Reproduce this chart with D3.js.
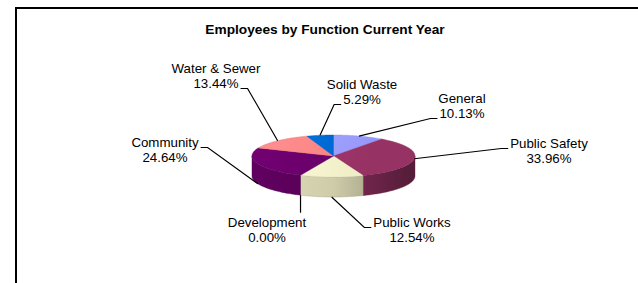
<!DOCTYPE html>
<html>
<head>
<meta charset="utf-8">
<script src="https://cdn.jsdelivr.net/npm/d3@7/dist/d3.min.js"></script>
<style>
  body { margin: 0; background: #fff; }
  text { font-family: "Liberation Sans", Arial, sans-serif; }
</style>
</head>
<body>
<svg id="chart" width="638" height="283"></svg>
<script>
// data, clockwise from 12 o'clock
var names = ["General", "Public Safety", "Public Works", "Development", "Community", "Water & Sewer", "Solid Waste"];
var values = [10.13, 33.96, 12.54, 0.00, 24.64, 13.44, 5.29];
var colors = ["#9999ff", "#993366", "#f2f0c6", "#ccffff", "#660066", "#ff8080", "#0066cc"];

// label layout: text centre, first baseline, which line the leader meets, side
var labelPos = [
  { x: 462, y: 103, line: 1, side: "r" },
  { x: 549, y: 148, line: 0, side: "r" },
  { x: 412, y: 227, line: 0, side: "r" },
  { x: 267, y: 227, line: 0, side: "b" },
  { x: 165, y: 147, line: 0, side: "l" },
  { x: 216, y: 73,  line: 1, side: "l" },
  { x: 362, y: 89,  line: 1, side: "r" }
];

var width = 638, height = 283;
var cx = 333.5, cy = 156, rx = 81.5, ry = 21, depth = 20;
var fontSize = 13.3;

var svg = d3.select("#chart");
var defs = svg.append("defs");

// frame (only left + top visible)
svg.append("path")
  .attr("d", "M16," + height + " L16,8 L" + width + ",8")
  .attr("fill", "none")
  .attr("stroke", "#000")
  .attr("stroke-width", 2);

svg.append("text")
  .attr("x", 325)
  .attr("y", 34)
  .attr("text-anchor", "middle")
  .style("font-size", "13.7px")
  .style("font-weight", "bold")
  .text("Employees by Function Current Year");

var pie = d3.pie().sort(null).startAngle(0).endAngle(2 * Math.PI);
var arcs = pie(values);

function px(a) { return cx + rx * Math.sin(a); }
function py(a, dy) { return cy - ry * Math.cos(a) + (dy || 0); }

function rim(a0, a1, dy) {
  var n = Math.max(2, Math.ceil((a1 - a0) / 0.02));
  return d3.range(n + 1).map(function (i) {
    var a = a0 + (a1 - a0) * i / n;
    return [px(a), py(a, dy)];
  });
}

var line = d3.line();

// gradients
arcs.forEach(function (d, i) {
  var c = d3.color(colors[i]);
  var gt = defs.append("linearGradient")
    .attr("id", "top" + i)
    .attr("gradientUnits", "userSpaceOnUse")
    .attr("x1", cx - rx).attr("y1", cy - ry)
    .attr("x2", cx + rx * 0.4).attr("y2", cy + ry);
  gt.append("stop").attr("offset", 0).attr("stop-color", c.brighter(0.35));
  gt.append("stop").attr("offset", 1).attr("stop-color", c.darker(0.05));

  var gs = defs.append("linearGradient")
    .attr("id", "side" + i)
    .attr("gradientUnits", "userSpaceOnUse")
    .attr("x1", cx - rx).attr("y1", 0)
    .attr("x2", cx + rx).attr("y2", 0);
  gs.append("stop").attr("offset", 0).attr("stop-color", c.darker(0.15));
  gs.append("stop").attr("offset", 0.5).attr("stop-color", c.darker(0.45));
  gs.append("stop").attr("offset", 1).attr("stop-color", c.darker(1.7));
});

// outer walls, front half only (angles between 90 and 270 deg)
var sides = svg.append("g");
arcs.forEach(function (d, i) {
  var a0 = Math.max(d.startAngle, Math.PI / 2);
  var a1 = Math.min(d.endAngle, Math.PI * 1.5);
  if (a1 <= a0) return;
  var pts = rim(a0, a1, 0).concat(rim(a0, a1, depth).reverse());
  sides.append("path")
    .attr("d", line(pts) + "Z")
    .attr("fill", "url(#side" + i + ")")
    .attr("stroke", d3.color(colors[i]).darker(1.2))
    .attr("stroke-width", 0.4);
});

// top faces
var tops = svg.append("g");
arcs.forEach(function (d, i) {
  if (d.endAngle - d.startAngle <= 0) return;
  var pts = [[cx, cy]].concat(rim(d.startAngle, d.endAngle, 0));
  tops.append("path")
    .attr("d", line(pts) + "Z")
    .attr("fill", "url(#top" + i + ")")
    .attr("stroke", d3.color(colors[i]).darker(0.3))
    .attr("stroke-width", 0.4);
});

// labels and leader lines
var labels = svg.append("g");
arcs.forEach(function (d, i) {
  var lp = labelPos[i];
  var t = labels.append("text")
    .attr("text-anchor", "middle")
    .style("font-size", fontSize + "px")
    .attr("fill", "#000");
  var l1 = t.append("tspan").attr("x", lp.x).attr("y", lp.y).text(names[i]);
  var l2 = t.append("tspan").attr("x", lp.x).attr("y", lp.y + 15).text(values[i].toFixed(2) + "%");

  var mid = (d.startAngle + d.endAngle) / 2;
  var ax = px(mid);
  var ay = py(mid, Math.cos(mid) < -0.3 ? depth : 0);

  var pts;
  if (lp.side === "b") {
    pts = [[ax, ay], [ax, lp.y - fontSize - 1]];
  } else {
    var span = lp.line === 0 ? l1 : l2;
    var w = span.node().getComputedTextLength();
    var ky = (lp.line === 0 ? lp.y : lp.y + 15) + 0.5;
    var kx0, kx1;
    if (lp.side === "r") { kx1 = lp.x - w / 2 - 2; kx0 = kx1 - 7; }
    else { kx0 = lp.x + w / 2 + 2; kx1 = kx0 + 7; }
    var knee = lp.side === "r" ? [kx0, ky] : [kx1, ky];
    var far = lp.side === "r" ? [kx1, ky] : [kx0, ky];
    pts = [[ax, ay], knee, far];
  }
  labels.append("path")
    .attr("d", line(pts))
    .attr("fill", "none")
    .attr("stroke", "#000")
    .attr("stroke-width", 1.2);
});
</script>
</body>
</html>
